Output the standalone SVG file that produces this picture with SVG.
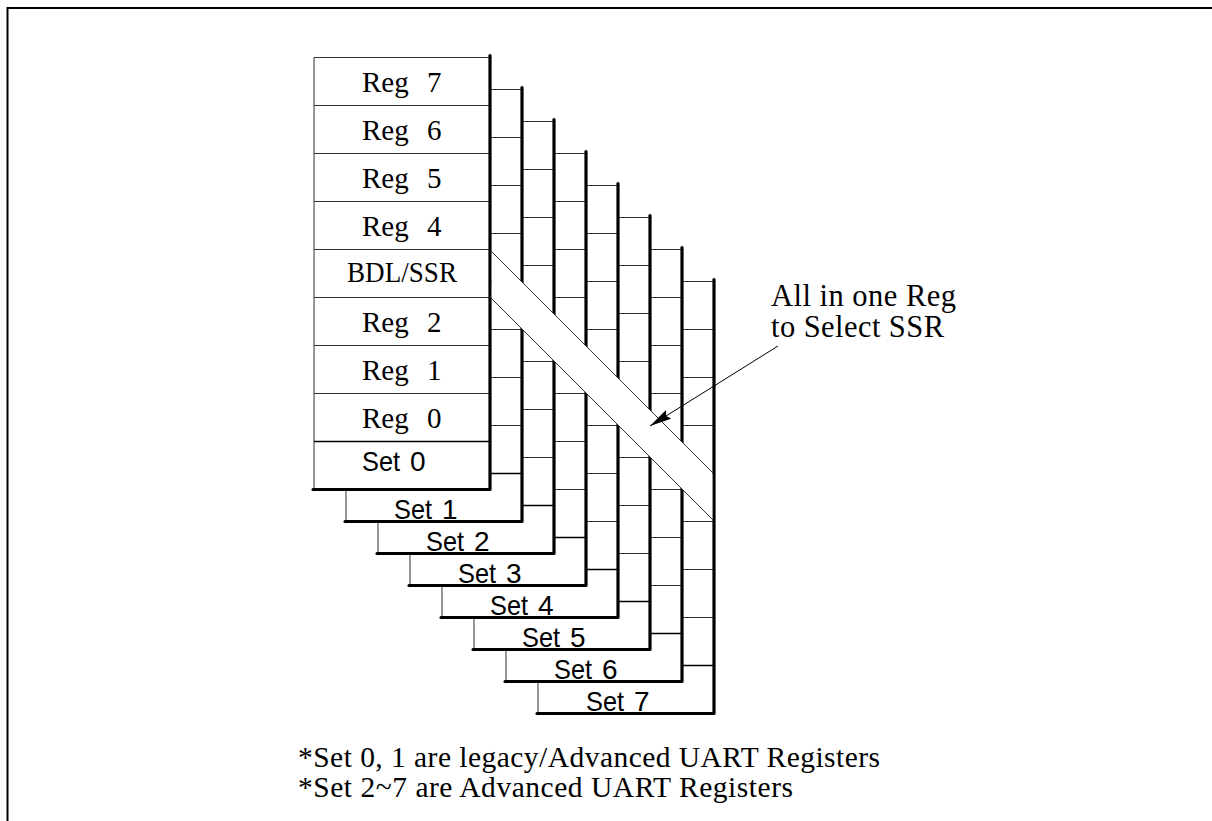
<svg xmlns="http://www.w3.org/2000/svg" width="1212" height="821" viewBox="0 0 1212 821">
<style>
.bg{fill:#fff;stroke:none}
.thin{stroke:#333;stroke-width:1;fill:none}
.mid{stroke:#000;stroke-width:1.6;fill:none}
.thick{stroke:#000;stroke-width:3.2;fill:none;stroke-linecap:round}
.reg{font-family:"Liberation Serif","Times New Roman",serif;font-size:29px;fill:#000}
.setl{font-family:"Liberation Sans",Arial,sans-serif;font-size:28px;fill:#000}
.note{font-family:"Liberation Serif","Times New Roman",serif;font-size:30.5px;fill:#000}
.foot{font-family:"Liberation Serif","Times New Roman",serif;font-size:29.5px;fill:#000}
</style>
<defs>
<marker id="ah" viewBox="0 0 22 10" refX="22" refY="5" markerWidth="22" markerHeight="10" markerUnits="userSpaceOnUse" orient="auto">
<path d="M0,0 L22,5 L0,10 L3,5 z" fill="#000"/>
</marker>
<g id="stackShape">
<rect class="bg" x="314" y="57.5" width="176" height="432"/>
<path class="thin" d="M314,57.5 V489.5 M314,57.5 H490 M314,105.5 H490 M314,153.5 H490 M314,201.5 H490 M314,249.5 H490 M314,297.5 H490 M314,345.5 H490 M314,393.5 H490"/>
<path class="mid" d="M314,441.5 H490"/>
<path class="thick" d="M490,55.5 V489.5 M313,489.5 H490"/>
</g>
</defs>
<path d="M7.5,900 V8 H1300" fill="none" stroke="#000" stroke-width="2"/>

<g id="set7"><use href="#stackShape" transform="translate(224,224)"/><text class="setl" x="586" y="711"><tspan textLength="38" lengthAdjust="spacingAndGlyphs">Set</tspan> <tspan x="634">7</tspan></text></g>
<g id="set6"><use href="#stackShape" transform="translate(192,192)"/><text class="setl" x="554" y="679"><tspan textLength="38" lengthAdjust="spacingAndGlyphs">Set</tspan> <tspan x="602">6</tspan></text></g>
<g id="set5"><use href="#stackShape" transform="translate(160,160)"/><text class="setl" x="522" y="647"><tspan textLength="38" lengthAdjust="spacingAndGlyphs">Set</tspan> <tspan x="570">5</tspan></text></g>
<g id="set4"><use href="#stackShape" transform="translate(128,128)"/><text class="setl" x="490" y="615"><tspan textLength="38" lengthAdjust="spacingAndGlyphs">Set</tspan> <tspan x="538">4</tspan></text></g>
<g id="set3"><use href="#stackShape" transform="translate(96,96)"/><text class="setl" x="458" y="583"><tspan textLength="38" lengthAdjust="spacingAndGlyphs">Set</tspan> <tspan x="506">3</tspan></text></g>
<g id="set2"><use href="#stackShape" transform="translate(64,64)"/><text class="setl" x="426" y="551"><tspan textLength="38" lengthAdjust="spacingAndGlyphs">Set</tspan> <tspan x="474">2</tspan></text></g>
<g id="set1"><use href="#stackShape" transform="translate(32,32)"/><text class="setl" x="394" y="519"><tspan textLength="38" lengthAdjust="spacingAndGlyphs">Set</tspan> <tspan x="442">1</tspan></text></g>
<g id="set0"><use href="#stackShape"/>
<text class="reg" x="362" y="92">Reg <tspan x="427">7</tspan></text>
<text class="reg" x="362" y="140">Reg <tspan x="427">6</tspan></text>
<text class="reg" x="362" y="188">Reg <tspan x="427">5</tspan></text>
<text class="reg" x="362" y="236">Reg <tspan x="427">4</tspan></text>
<text class="reg" x="347" y="282" font-size="31" textLength="110" lengthAdjust="spacingAndGlyphs">BDL/SSR</text>
<text class="reg" x="362" y="332">Reg <tspan x="427">2</tspan></text>
<text class="reg" x="362" y="380">Reg <tspan x="427">1</tspan></text>
<text class="reg" x="362" y="428">Reg <tspan x="427">0</tspan></text>
<text class="setl" x="362" y="471"><tspan textLength="38" lengthAdjust="spacingAndGlyphs">Set</tspan> <tspan x="410">0</tspan></text>
</g>

<g id="ssrband">
<polygon class="bg" points="491.8,251.8 712.3,472.3 712.3,519.3 491.8,298.8"/>
<path class="thin" d="M490,250 L713,473 M490,297 L713,520"/>
</g>

<g id="callout">
<text class="note" x="771" y="306" textLength="185" lengthAdjust="spacing">All in one Reg</text>
<text class="note" x="771" y="337" textLength="173" lengthAdjust="spacing">to Select SSR</text>
</g>

<g id="connectors">
<line x1="778" y1="346" x2="650" y2="426" stroke="#000" stroke-width="1" marker-end="url(#ah)"/>
</g>

<g id="notes">
<text class="foot" x="298" y="767" textLength="582" lengthAdjust="spacing">*Set 0, 1 are legacy/Advanced UART Registers</text>
<text class="foot" x="298" y="797" textLength="495" lengthAdjust="spacing">*Set 2~7 are Advanced UART Registers</text>
</g>
</svg>
